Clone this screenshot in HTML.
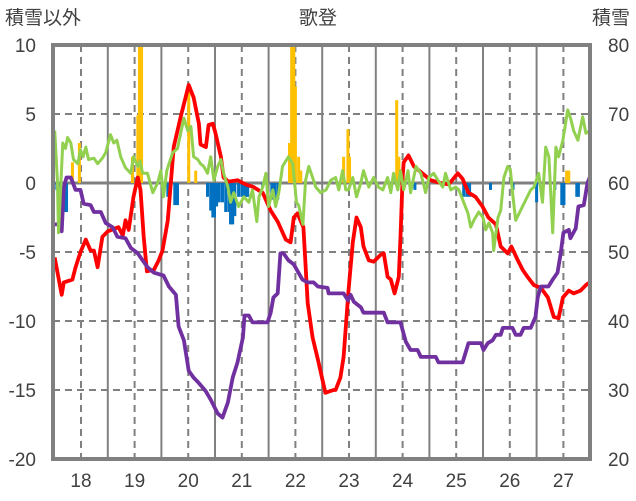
<!DOCTYPE html>
<html><head><meta charset="utf-8">
<style>
html,body{margin:0;padding:0;background:#fff;}
svg{display:block;font-family:"Liberation Sans","Noto Sans CJK JP",sans-serif;}
</style></head>
<body>
<svg id="chart" width="636" height="501" viewBox="0 0 636 501" xmlns="http://www.w3.org/2000/svg">
<text x="5" y="24" font-size="19" fill="#404040">積雪以外</text>
<text x="318" y="24" font-size="19" fill="#404040" text-anchor="middle">歌登</text>
<text x="630" y="24" font-size="19" fill="#404040" text-anchor="end">積雪</text>
<g id="grid"></g>
<g id="bars"></g>
<g id="lines"></g>
<g id="axes"></g>
</svg>
<script>
const leftTicks = [10, 5, 0, -5, -10, -15, -20];
const rightTicks = [80, 70, 60, 50, 40, 30, 20];
const yearLabels = ["18","19","20","21","22","23","24","25","26","27"];
const yearValues = [18,19,20,21,22,23,24,25,26,27];

const redT = [17.51,17.64,17.68,17.84,17.90,17.99,18.09,18.18,18.24,18.31,18.40,18.50,18.70,18.78,18.83,18.89,18.98,19.06,19.11,19.17,19.23,19.36,19.45,19.52,19.62,19.73,19.86,20.01,20.10,20.20,20.23,20.33,20.38,20.46,20.51,20.61,20.66,20.75,20.92,21.07,21.22,21.39,21.54,21.67,21.82,21.91,21.97,22.04,22.15,22.23,22.32,22.42,22.56,22.71,22.75,22.84,22.90,22.99,23.07,23.14,23.22,23.27,23.37,23.46,23.59,23.65,23.72,23.78,23.85,23.93,23.96,24.00,24.02,24.11,24.21,24.34,24.52,24.71,24.86,25.03,25.12,25.23,25.36,25.49,25.60,25.74,25.83,25.96,26.03,26.15,26.24,26.33,26.45,26.58,26.71,26.82,26.91,26.99,27.10,27.19,27.32,27.42,27.49];
const redV = [-5.4,-8.1,-7.2,-7.0,-6.1,-5.0,-4.1,-4.9,-4.9,-6.1,-3.9,-3.5,-3.2,-3.8,-2.7,-3.4,-1.0,0.4,-0.5,-3.9,-6.4,-6.3,-5.6,-4.9,-2.7,2.6,4.8,7.1,6.2,4.3,2.8,2.6,4.2,4.3,3.6,1.9,0.4,0.1,0.2,-0.1,-0.3,-0.7,-2.0,-2.8,-4.1,-4.3,-2.5,-2.2,-3.2,-8.7,-11.2,-12.8,-15.2,-15.0,-15.0,-14.1,-12.6,-7.8,-4.3,-2.5,-3.2,-4.6,-5.6,-5.7,-5.2,-5.1,-6.8,-7.0,-8.0,-6.8,-3.9,0.4,1.5,2.0,1.2,0.8,0.2,0.0,-0.1,0.7,0.3,-0.7,-1.0,-1.7,-2.5,-3.0,-4.6,-5.1,-4.6,-5.6,-6.3,-6.8,-7.4,-7.6,-8.3,-9.7,-9.8,-8.3,-7.8,-8.0,-7.8,-7.4,-7.2];

const purpleT = [17.51,17.58,17.64,17.68,17.73,17.81,17.90,17.99,18.05,18.18,18.24,18.37,18.46,18.59,18.68,18.83,18.93,19.06,19.15,19.24,19.36,19.54,19.64,19.77,19.82,19.92,20.01,20.10,20.20,20.33,20.42,20.55,20.64,20.74,20.83,20.92,21.02,21.05,21.13,21.20,21.48,21.54,21.59,21.67,21.72,21.78,21.87,21.97,22.13,22.23,22.34,22.42,22.60,22.62,22.90,22.98,23.03,23.09,23.22,23.27,23.65,23.72,23.96,24.06,24.15,24.28,24.34,24.62,24.67,25.12,25.23,25.46,25.51,25.59,25.68,25.74,25.83,25.87,26.05,26.11,26.20,26.26,26.39,26.48,26.52,26.58,26.72,26.80,26.89,26.95,27.00,27.10,27.13,27.23,27.28,27.38,27.45,27.49];
const purpleV = [-3.0,-3.0,-3.5,-0.3,0.4,0.4,-0.5,-0.5,-1.5,-1.6,-2.1,-2.1,-2.9,-3.2,-3.9,-4.0,-4.7,-5.1,-5.6,-6.1,-6.5,-6.7,-7.5,-8.1,-10.4,-11.4,-13.6,-14.1,-14.5,-15.1,-15.7,-16.7,-17.0,-15.9,-14.1,-13.0,-11.2,-9.6,-9.6,-10.1,-10.1,-9.4,-8.3,-8.0,-5.1,-5.1,-5.6,-5.9,-7.0,-7.2,-7.2,-7.5,-7.6,-8.0,-8.0,-8.5,-8.1,-8.6,-9.0,-9.4,-9.4,-10.1,-10.1,-11.5,-12.1,-12.1,-12.6,-12.6,-13.0,-13.0,-11.6,-11.6,-12.1,-11.6,-11.4,-11.0,-11.0,-10.5,-10.5,-11.0,-11.0,-10.5,-10.5,-9.7,-8.3,-7.5,-7.5,-7.0,-6.5,-5.1,-3.6,-3.4,-4.0,-3.3,-1.7,-1.6,0.0,0.4];

const greenT = [17.51,17.56,17.58,17.66,17.71,17.75,17.81,17.86,17.94,17.99,18.04,18.09,18.14,18.24,18.31,18.40,18.46,18.55,18.61,18.67,18.74,18.83,18.93,18.98,19.06,19.10,19.15,19.24,19.34,19.43,19.49,19.54,19.60,19.71,19.80,19.86,19.92,19.99,20.05,20.10,20.18,20.23,20.29,20.36,20.42,20.48,20.55,20.61,20.66,20.74,20.79,20.85,20.94,21.04,21.13,21.20,21.28,21.32,21.39,21.45,21.50,21.58,21.63,21.69,21.76,21.87,21.95,22.02,22.06,22.14,22.19,22.25,22.32,22.38,22.47,22.57,22.66,22.75,22.81,22.88,22.94,22.99,23.07,23.14,23.22,23.27,23.37,23.46,23.55,23.63,23.72,23.78,23.83,23.91,23.96,24.02,24.10,24.15,24.25,24.34,24.43,24.49,24.58,24.66,24.75,24.80,24.90,24.99,25.05,25.14,25.22,25.27,25.33,25.42,25.50,25.55,25.61,25.68,25.70,25.78,25.83,25.89,25.96,26.01,26.06,26.11,26.20,26.30,26.39,26.45,26.54,26.61,26.67,26.73,26.80,26.86,26.91,26.99,27.08,27.14,27.19,27.27,27.36,27.42,27.49];
const greenV = [3.8,0.2,-3.6,2.9,2.5,3.3,2.9,1.7,1.4,2.4,1.9,2.6,1.7,1.8,1.4,1.8,2.2,3.5,2.9,3.1,1.9,1.1,0.7,1.9,1.2,1.6,0.7,0.7,-0.7,0.0,0.9,-1.0,0.9,2.2,2.5,3.6,4.7,3.8,4.1,1.9,1.7,1.4,1.2,0.7,1.9,0.2,1.2,1.7,0.7,-0.3,-1.4,-0.7,-1.7,-1.0,-1.4,-0.5,-2.8,-1.0,-0.3,0.7,-1.7,-0.5,-1.7,-0.7,1.2,1.9,1.4,-1.4,-1.6,-3.0,0.2,1.2,0.4,-0.3,-0.7,-0.5,0.2,0.4,-0.5,0.9,-0.5,-0.5,0.4,-1.0,0.0,0.9,-0.3,0.4,-0.3,-0.5,0.4,-0.7,0.7,-0.5,0.9,-0.5,0.9,-0.7,1.2,0.7,-0.7,0.4,0.7,0.2,-0.3,0.7,-0.5,-0.3,-0.5,-1.4,-2.2,-3.2,-2.7,-2.1,-2.5,-3.4,-2.9,-3.6,-4.9,-2.5,-2.0,0.4,1.2,1.0,-1.0,-2.7,-2.0,-1.2,-0.5,-0.3,0.7,-1.4,2.6,1.9,-3.6,2.6,1.9,3.1,5.3,4.6,3.8,3.1,4.8,3.6,3.8];

const barT = [17.55,17.58,17.69,17.73,17.84,17.97,18.96,19.06,19.09,19.13,19.52,19.62,19.75,19.80,20.01,20.14,20.36,20.42,20.46,20.49,20.53,20.58,20.64,20.70,20.76,20.79,20.83,20.87,20.94,21.00,21.05,21.08,21.11,21.39,21.56,21.61,21.67,21.89,21.93,21.97,22.00,22.06,22.10,22.90,22.98,23.01,23.89,23.93,24.23,25.14,25.20,25.25,25.64,26.06,26.50,26.84,26.97,27.01,27.06,27.10,27.25,27.28,27.45];
const barV = [-0.5,-0.5,-2.1,-2.1,1.5,2.9,1.9,4.9,10,10,-0.5,-1.0,-1.6,-1.6,6.7,0.9,-1.0,-2.0,-2.5,-2.5,-1.7,-1.4,-1.4,-2.1,-2.1,-3.0,-3.0,-2.4,-1.0,-1.0,-1.0,-1.0,-1.0,-0.3,-1.2,-1.2,-1.2,2.9,10,10,7.0,1.9,0.9,1.9,3.9,1.9,6.0,1.9,-0.5,-1.0,-1.0,-1.0,-0.5,-0.5,-1.4,-0.5,-1.6,-1.6,0.9,0.9,-1.0,-1.0,-0.5];

const NS = "http://www.w3.org/2000/svg";
const PL = 53, PR = 590, PT = 45, PB = 459;
function xScale(t){ return 81 + (t - 18) * 53.6; }
function yScale(v){ return 183 - v * 13.8; }
function yRight(v){ return 183 - (v - 60) * 6.9; }
function mk(tag, attrs, parent){
  const el = document.createElementNS(NS, tag);
  for (const k in attrs) el.setAttribute(k, attrs[k]);
  parent.appendChild(el);
  return el;
}
const grid = document.getElementById('grid');
const bars = document.getElementById('bars');
const lines = document.getElementById('lines');
const axes = document.getElementById('axes');

leftTicks.forEach(v => {
  if (v === 10 || v === -20 || v === 0) return;
  const l = mk('line', {x1:PL, x2:PR, y1:yScale(v), y2:yScale(v), stroke:'#808080', 'stroke-width':2, 'stroke-dasharray':'7,5'}, grid);
  
  
});
yearValues.forEach(y => {
  const d = mk('line', {x1:xScale(y), x2:xScale(y), y1:PT, y2:PB, stroke:'#808080', 'stroke-width':2, 'stroke-dasharray':'7,5'}, grid);
  
  
  const s = mk('line', {x1:xScale(y+0.5), x2:xScale(y+0.5), y1:PT, y2:PB, stroke:'#808080', 'stroke-width':2}, grid);
  
  
});

barT.forEach((t, i) => {
  const v = barV[i];
  const y0 = yScale(0), y1 = yScale(v);
  const r = mk('rect', {x:xScale(t)-1.5, width:3, y:Math.min(y0,y1), height:Math.abs(y1-y0), fill: v > 0 ? '#FFC000' : '#0070C0'}, bars);
  
  
});

const z = mk('line', {x1:PL, x2:PR, y1:yScale(0), y2:yScale(0), stroke:'#808080', 'stroke-width':3}, grid);



function pathOf(ts, vs){ return ts.map((t,i)=>(i?'L':'M')+xScale(t).toFixed(1)+','+yScale(vs[i]).toFixed(1)).join(''); }
const red = mk('path', {d:pathOf(redT, redV), fill:'none', stroke:'#FF0000', 'stroke-width':3.8, 'stroke-linejoin':'round'}, lines);


const purple = mk('path', {d:pathOf(purpleT, purpleV), fill:'none', stroke:'#7030A0', 'stroke-width':3.8, 'stroke-linejoin':'round'}, lines);


const green = mk('path', {d:pathOf(greenT, greenV), fill:'none', stroke:'#92D050', 'stroke-width':3, 'stroke-linejoin':'round'}, lines);



const fr = mk('rect', {x:PL, y:PT, width:PR-PL, height:PB-PT, fill:'none', stroke:'#808080', 'stroke-width':4}, axes);



leftTicks.forEach(v => {
  const t = mk('text', {x:36, y:yScale(v)+7, 'font-size':19, fill:'#404040', 'text-anchor':'end'}, axes);
  t.textContent = String(v);
  
  
});
rightTicks.forEach(v => {
  const t = mk('text', {x:608, y:yRight(v)+7, 'font-size':19, fill:'#404040'}, axes);
  t.textContent = String(v);
  
  
});
yearLabels.forEach((lab, i) => {
  const t = mk('text', {x:xScale(yearValues[i]), y:487, 'font-size':19, fill:'#404040', 'text-anchor':'middle'}, axes);
  t.textContent = lab;
  
  
});
</script>
</body></html>
